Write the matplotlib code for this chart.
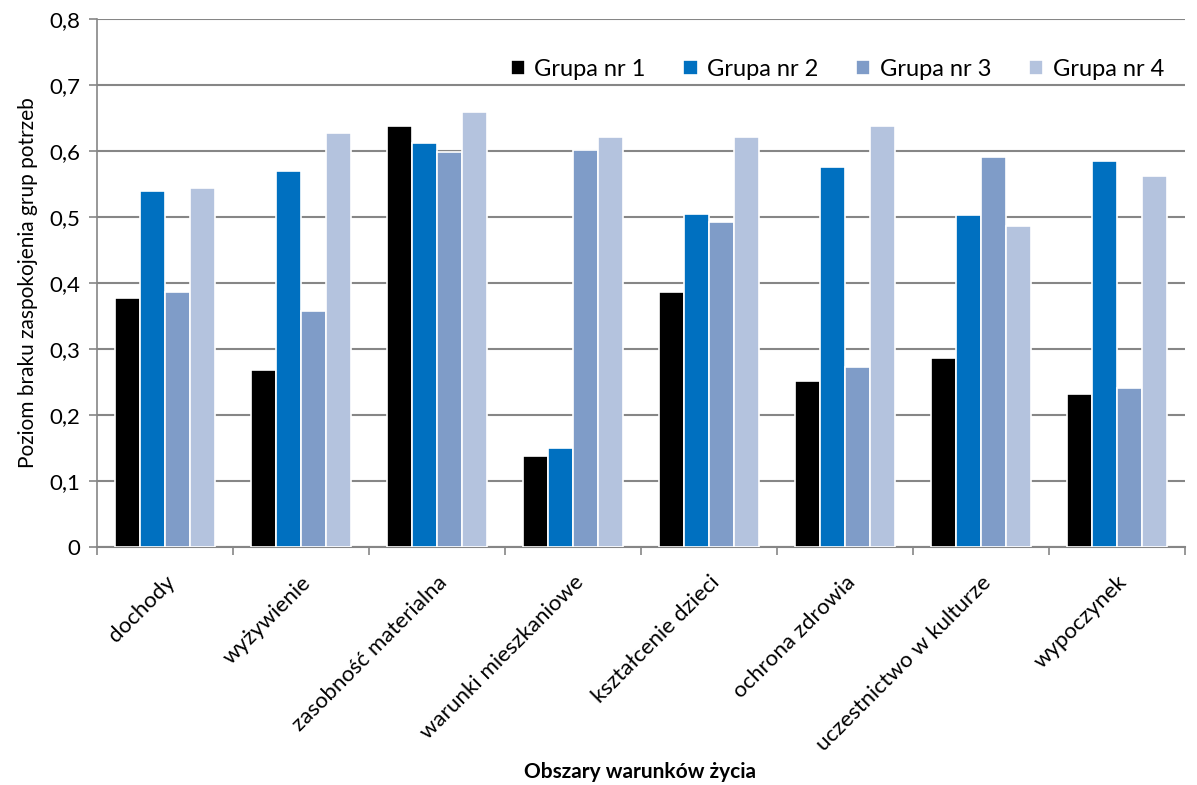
import numpy as np
import matplotlib.pyplot as plt
from matplotlib.ticker import FuncFormatter

plt.rcParams['font.family'] = ['Lato', 'DejaVu Sans']

# data
categories = ['dochody', 'wyżywienie', 'zasobność materialna', 'warunki mieszkaniowe',
              'kształcenie dzieci', 'ochrona zdrowia', 'uczestnictwo w kulturze', 'wypoczynek']
grupa1 = [0.378, 0.268, 0.638, 0.138, 0.387, 0.252, 0.287, 0.232]
grupa2 = [0.540, 0.569, 0.612, 0.150, 0.505, 0.575, 0.503, 0.585]
grupa3 = [0.386, 0.358, 0.599, 0.601, 0.493, 0.273, 0.591, 0.241]
grupa4 = [0.544, 0.627, 0.659, 0.621, 0.621, 0.638, 0.487, 0.562]
series_names = ['Grupa nr 1', 'Grupa nr 2', 'Grupa nr 3', 'Grupa nr 4']
colors = ['#000000', '#0070C0', '#7F9CC8', '#B4C3DE']

series = [grupa1, grupa2, grupa3, grupa4]

fig = plt.figure(figsize=(11.97, 7.85), dpi=100)
ax = fig.add_axes([0.081, 0.303, 0.909, 0.673])

x = np.arange(len(categories))
w = 0.185
for i, (vals, name, c) in enumerate(zip(series, series_names, colors)):
    ax.bar(x + (i - 1.5) * w, vals, width=w, color=c, edgecolor='white',
           linewidth=1.2, label=name, zorder=3)

ax.set_xlim(-0.5, len(categories) - 0.5)
ax.set_ylim(0, 0.8)
ax.set_yticks(np.arange(0, 0.81, 0.1))
ax.yaxis.set_major_formatter(FuncFormatter(lambda v, p: '0' if abs(v) < 1e-9 else f'{v:.1f}'.replace('.', ',')))
ax.yaxis.grid(True, color='#868686', linewidth=1.5, zorder=0)

ax.set_xticks(x)
ax.set_xticklabels(categories, rotation=45, ha='right', rotation_mode='anchor', fontsize=16)
ax.tick_params(axis='x', length=0, pad=18)
ax.set_xticks(np.arange(-0.5, len(categories), 1), minor=True)
ax.tick_params(axis='x', which='minor', length=6, color='#868686', width=1.2)
ax.tick_params(axis='y', labelsize=16, length=6, color='#868686', width=1.2, pad=6)

for s in ['top', 'right']:
    ax.spines[s].set_visible(False)
ax.spines['left'].set_color('#868686')
ax.spines['bottom'].set_color('#868686')
ax.spines['left'].set_linewidth(1.2)
ax.spines['bottom'].set_linewidth(1.5)

ax.set_ylabel('Poziom braku zaspokojenia grup potrzeb', fontsize=15, labelpad=8)
fig.text(0.535, 1 - 772 / 785, 'Obszary warunków życia', fontsize=15, fontweight='bold',
         ha='center', va='center')

ax.legend(loc='upper right', bbox_to_anchor=(1.0, 0.965), ncol=4, frameon=False,
          fontsize=17, handlelength=0.6, handleheight=0.6, handletextpad=0.4,
          columnspacing=1.6)

fig.savefig('out.png', dpi=100)
